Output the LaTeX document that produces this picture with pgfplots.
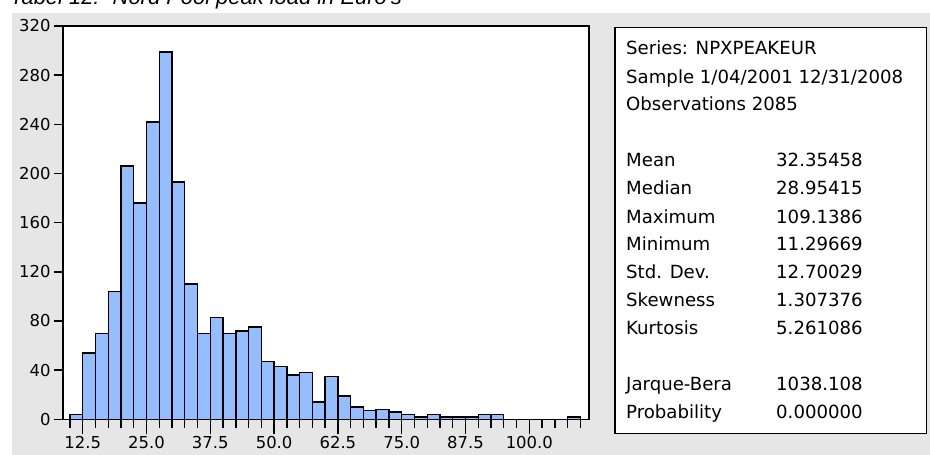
\documentclass[border=0pt]{standalone}
\usepackage{fontspec}
\setmainfont{DejaVu Sans}
\newfontfamily\titlefont{Liberation Sans}
\usepackage{pgfplots}
\pgfplotsset{compat=1.18}
\definecolor{bg}{HTML}{E6E6E6}
\definecolor{barblue}{RGB}{150,190,255}
\begin{document}
\begin{tikzpicture}[x=1bp,y=1bp]
\useasboundingbox (0,0) rectangle (930,455);
\clip (0,0) rectangle (930,455);
\fill[bg] (12,0) rectangle (930,442);
\node[anchor=base west, inner sep=0, font=\titlefont\itshape\fontsize{22}{26}\selectfont] at (10,450) {Tabel 12:\hspace{0.6em}Nord Pool peak load in Euro's};
\begin{axis}[
  at={(63bp,35.7bp)}, anchor=south west, scale only axis,
  width=526bp, height=393.3bp,
  xmin=8.64, xmax=111.7, ymin=0, ymax=320,
  axis background/.style={fill=white},
  axis line style={black, line width=1.4bp},
  tick align=outside, xtick pos=left, ytick pos=left,
  major tick length=9bp, minor tick length=9bp,
  every tick/.style={black, line width=1.4bp},
  ytick={0,40,...,320},
  xtick={10,12.5,...,110},
  xticklabels={},
  extra x ticks={12.5,25,37.5,50,62.5,75,87.5,100},
  extra x tick labels={12.5,25.0,37.5,50.0,62.5,75.0,87.5,100.0},
  extra x tick style={major tick length=15bp},
  tick label style={font=\fontsize{16.5}{18}\selectfont, black},
  xticklabel style={inner sep=2bp},
  /pgf/number format/assume math mode=true,
]
\addplot[ybar interval, fill=barblue, draw=black, line width=1.4bp] coordinates {
(10,4) (12.5,54) (15,70) (17.5,104) (20,206) (22.5,176) (25,242) (27.5,299)
(30,193) (32.5,110) (35,70) (37.5,83) (40,70) (42.5,72) (45,75) (47.5,47)
(50,43) (52.5,36) (55,38) (57.5,14) (60,35) (62.5,19) (65,10) (67.5,7)
(70,8) (72.5,6) (75,4) (77.5,2) (80,4) (82.5,2) (85,2) (87.5,2)
(90,4) (92.5,4) (95,0) (97.5,0) (100,0) (102.5,0) (105,0) (107.5,2) (110,2)
};
\end{axis}
\draw[black, line width=1.4bp, fill=white] (615,427.7) rectangle (926.7,21.7);
\begin{scope}[every node/.style={anchor=base west, inner sep=0, font=\fontsize{18.2}{22}\selectfont}]
\node at (626,400) {Series: NPXPEAKEUR};
\node at (626,371.6) {Sample 1/04/2001 12/31/2008};
\node at (626,344) {Observations 2085};
\node at (626,288.3) {Mean};
\node at (776,288.3) {32.35458};
\node at (626,260) {Median};
\node at (776,260) {28.95415};
\node at (626,231.6) {Maximum};
\node at (776,231.6) {109.1386};
\node at (626,204) {Minimum};
\node at (776,204) {11.29669};
\node at (626,176) {Std. Dev.};
\node at (776,176) {12.70029};
\node at (626,148.3) {Skewness};
\node at (776,148.3) {1.307376};
\node at (626,120.6) {Kurtosis};
\node at (776,120.6) {5.261086};
\node at (626,64) {Jarque-Bera};
\node at (776,64) {1038.108};
\node at (626,36.6) {Probability};
\node at (776,36.6) {0.000000};
\end{scope}
\end{tikzpicture}
\end{document}
